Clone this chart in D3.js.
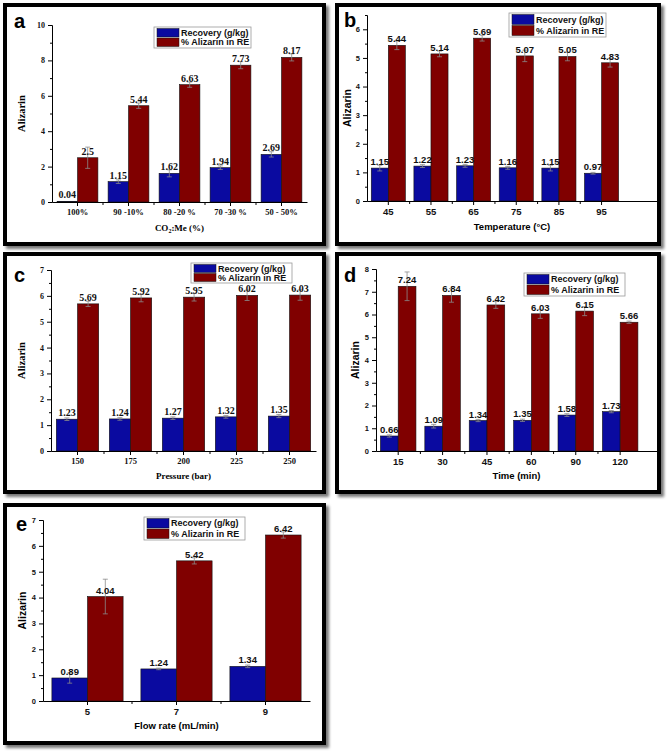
<!DOCTYPE html>
<html>
<head>
<meta charset="utf-8">
<script src="https://cdn.jsdelivr.net/npm/d3@7"></script>
<style>
body{margin:0;background:#fff;}
svg{display:block;}
</style>
</head>
<body>
<div id="chart"></div>
<script>
// ---- data ----
const seriesNames = ["Recovery (g/kg)", "% Alizarin in RE"];
const seriesColors = ["#0a0aa0", "#800000"];

const catsA = ["100%", "90 -10%", "80 -20 %", "70 -30 %", "50 - 50%"];
const recA = [0.04, 1.15, 1.62, 1.94, 2.69];
const reA = [2.5, 5.44, 6.63, 7.73, 8.17];
const recErrA = [0, 0.1, 0.2, 0.1, 0.15];
const reErrA = [0.6, 0.15, 0.15, 0.2, 0.2];

const catsB = ["45", "55", "65", "75", "85", "95"];
const recB = [1.15, 1.22, 1.23, 1.16, 1.15, 0.97];
const reB = [5.44, 5.14, 5.69, 5.07, 5.05, 4.83];
const recErrB = [0.1, 0.05, 0.05, 0.05, 0.1, 0.03];
const reErrB = [0.15, 0.1, 0.1, 0.2, 0.15, 0.15];

const catsC = ["150", "175", "200", "225", "250"];
const recC = [1.23, 1.24, 1.27, 1.32, 1.35];
const reC = [5.69, 5.92, 5.95, 6.02, 6.03];
const recErrC = [0.05, 0.05, 0.05, 0.05, 0.06];
const reErrC = [0.1, 0.15, 0.15, 0.2, 0.2];

const catsD = ["15", "30", "45", "60", "90", "120"];
const recD = [0.66, 1.09, 1.34, 1.35, 1.58, 1.73];
const reD = [7.24, 6.84, 6.42, 6.03, 6.15, 5.66];
const recErrD = [0.05, 0.08, 0.05, 0.05, 0.06, 0.05];
const reErrD = [0.63, 0.3, 0.15, 0.2, 0.2, 0.05];

const catsE = ["5", "7", "9"];
const recE = [0.89, 1.24, 1.34];
const reE = [4.04, 5.42, 6.42];
const recErrE = [0.2, 0.03, 0.05];
const reErrE = [0.67, 0.12, 0.12];

const yTitle = "Alizarin";
const xTitles = ["CO2:Me (%)", "Temperature (°C)", "Pressure (bar)", "Time (min)", "Flow rate (mL/min)"];

// ---- layout ----
const panels = [
  {letter: "a", cats: catsA, rec: recA, re: reA, recErr: recErrA, reErr: reErrA, xTitle: xTitles[0],
   yMax: 10, yStep: 2, minor: 1, serif: true,
   box: [3, 3, 326, 246], x0: 52, x1: 307, po: 0, yTop: 25, yBot: 202,
   legend: [154, 27, 97, 21], letterPos: [14, 28], yTitleX: 25, xTitleY: 231},
  {letter: "b", cats: catsB, rec: recB, re: reB, recErr: recErrB, reErr: reErrB, xTitle: xTitles[1],
   yMax: 6.5, yStep: 1, minor: 0.5, serif: false,
   box: [335, 3, 661, 246], x0: 367, x1: 657, po: 0.4, yTop: 15, yBot: 201,
   legend: [509, 13, 97, 24], letterPos: [344, 27], yTitleX: 351, xTitleY: 230},
  {letter: "c", cats: catsC, rec: recC, re: reC, recErr: recErrC, reErr: reErrC, xTitle: xTitles[2],
   yMax: 7, yStep: 1, minor: 0.5, serif: true,
   box: [3, 252, 326, 494], x0: 51, x1: 316, po: 0, yTop: 270, yBot: 451,
   legend: [191, 263, 101, 20], letterPos: [14, 282], yTitleX: 25, xTitleY: 479},
  {letter: "d", cats: catsD, rec: recD, re: reD, recErr: recErrD, reErr: reErrD, xTitle: xTitles[3],
   yMax: 8, yStep: 1, minor: 0.5, serif: false,
   box: [335, 252, 661, 494], x0: 376, x1: 657, po: 0.165, yTop: 269, yBot: 451,
   legend: [524, 273, 101, 23], letterPos: [344, 282], yTitleX: 359, xTitleY: 479},
  {letter: "e", cats: catsE, rec: recE, re: reE, recErr: recErrE, reErr: reErrE, xTitle: xTitles[4],
   yMax: 7, yStep: 1, minor: 0.5, serif: false,
   box: [3, 503, 326, 745], x0: 43, x1: 310, po: 0, yTop: 520, yBot: 701,
   legend: [144, 517, 101, 23], letterPos: [16, 531], yTitleX: 26, xTitleY: 729}
];

const SANS = "'Liberation Sans', Arial, sans-serif";
const SERIF = "'Liberation Serif', 'Times New Roman', serif";

const svg = d3.select("#chart").append("svg")
    .attr("width", 667)
    .attr("height", 753);

svg.append("defs").append("filter")
    .attr("id", "blur")
    .attr("x", "-5%").attr("y", "-5%").attr("width", "110%").attr("height", "110%")
  .append("feGaussianBlur").attr("stdDeviation", 1.5);

panels.forEach(drawPanel);

function drawPanel(p) {
  const g = svg.append("g");
  const [bx0, by0, bx1, by1] = p.box;
  const font = p.serif ? SERIF : SANS;

  // frame with a soft shadow
  g.append("rect")
      .attr("x", bx0 + 3).attr("y", by0 + 3)
      .attr("width", bx1 - bx0).attr("height", by1 - by0)
      .attr("fill", "#777").attr("filter", "url(#blur)");
  g.append("rect")
      .attr("x", bx0 + 2).attr("y", by0 + 2)
      .attr("width", bx1 - bx0 - 4).attr("height", by1 - by0 - 4)
      .attr("fill", "#fff").attr("stroke", "#000").attr("stroke-width", 4);

  const x = d3.scaleBand()
      .domain(p.cats)
      .range([p.x0, p.x1])
      .paddingInner(0)
      .paddingOuter(p.po)
      .align(0);
  const y = d3.scaleLinear().domain([0, p.yMax]).range([p.yBot, p.yTop]);
  const bw = x.bandwidth();
  const xs = d3.scaleBand().domain([0, 1]).range([bw * 0.1, bw * 0.9]);

  const rows = [];
  p.cats.forEach(function(c, i) {
    rows.push({c: c, s: 0, v: p.rec[i], e: p.recErr[i]});
    rows.push({c: c, s: 1, v: p.re[i], e: p.reErr[i]});
  });
  const cx = d => x(d.c) + xs(d.s) + xs.bandwidth() / 2;

  g.selectAll(".bar")
      .data(rows)
      .enter().append("rect")
      .attr("x", d => x(d.c) + xs(d.s))
      .attr("width", xs.bandwidth())
      .attr("y", d => y(d.v))
      .attr("height", d => y(0) - y(d.v))
      .attr("fill", d => seriesColors[d.s])
      .attr("stroke", "#111")
      .attr("stroke-width", 0.6);

  // error bars
  const eb = g.selectAll(".err")
      .data(rows.filter(d => d.e > 0))
      .enter().append("g")
      .attr("stroke", "#8a8a8a")
      .attr("stroke-width", 0.8);
  eb.append("line")
      .attr("x1", cx).attr("x2", cx)
      .attr("y1", d => y(d.v - d.e)).attr("y2", d => y(d.v + d.e));
  eb.append("line")
      .attr("x1", d => cx(d) - 2.5).attr("x2", d => cx(d) + 2.5)
      .attr("y1", d => y(d.v + d.e)).attr("y2", d => y(d.v + d.e));
  eb.append("line")
      .attr("x1", d => cx(d) - 2.5).attr("x2", d => cx(d) + 2.5)
      .attr("y1", d => y(d.v - d.e)).attr("y2", d => y(d.v - d.e));

  // value labels
  g.selectAll(".val")
      .data(rows)
      .enter().append("text")
      .attr("x", cx)
      .attr("y", d => y(d.v) - 3)
      .attr("text-anchor", "middle")
      .style("font-family", font)
      .style("font-weight", "bold")
      .style("font-size", p.serif ? "10px" : "9.5px")
      .attr("fill", "#111")
      .text(d => String(d.v));

  // y axis
  const yTicks = d3.range(0, p.yMax + 1e-6, p.yStep);
  const yMinor = d3.range(0, p.yMax + 1e-6, p.minor).filter(v => yTicks.indexOf(v) < 0);
  g.append("g")
      .attr("transform", "translate(" + p.x0 + ",0)")
      .call(d3.axisLeft(y).tickValues(yMinor).tickSize(2).tickSizeOuter(0).tickFormat(""));
  const ya = g.append("g")
      .attr("transform", "translate(" + p.x0 + ",0)")
      .call(d3.axisLeft(y).tickValues(yTicks).tickSize(4).tickSizeOuter(0).tickPadding(3)
        .tickFormat(d3.format("d")));
  ya.selectAll("text")
      .style("font-family", font)
      .style("font-weight", "bold")
      .style("font-size", p.serif ? "8px" : "7.5px")
      .attr("fill", "#111");

  // x axis
  const xa = g.append("g")
      .attr("transform", "translate(0," + p.yBot + ")")
      .call(d3.axisBottom(x).tickSize(4).tickSizeOuter(0).tickPadding(3));
  xa.selectAll("text")
      .style("font-family", font)
      .style("font-weight", "bold")
      .style("font-size", p.serif ? "8.5px" : "9.5px")
      .attr("fill", "#111");
  g.append("g").selectAll("line")
      .data(d3.range(1, p.cats.length))
      .enter().append("line")
      .attr("x1", i => x(p.cats[0]) + i * x.step())
      .attr("x2", i => x(p.cats[0]) + i * x.step())
      .attr("y1", p.yBot).attr("y2", p.yBot + 3)
      .attr("stroke", "#000");
  g.selectAll(".domain").attr("stroke", "#000").attr("stroke-width", 1);

  // axis titles
  g.append("text")
      .attr("transform", "translate(" + p.yTitleX + "," + ((p.yTop + p.yBot) / 2) + ") rotate(-90)")
      .attr("text-anchor", "middle")
      .style("font-family", font)
      .style("font-weight", "bold")
      .style("font-size", "10.5px")
      .text(yTitle);

  const xt = g.append("text")
      .attr("x", (p.x0 + p.x1) / 2)
      .attr("y", p.xTitleY)
      .attr("text-anchor", "middle")
      .style("font-family", font)
      .style("font-weight", "bold")
      .style("font-size", p.serif ? "9px" : "9.5px");
  if (p.xTitle.indexOf("CO2") === 0) {
    xt.append("tspan").text("CO");
    xt.append("tspan").attr("dy", 2).style("font-size", "6px").text("2");
    xt.append("tspan").attr("dy", -2).text(p.xTitle.slice(3));
  } else {
    xt.text(p.xTitle);
  }

  // legend
  const [lx, ly, lw, lh] = p.legend;
  const lg = g.append("g");
  lg.append("rect")
      .attr("x", lx).attr("y", ly).attr("width", lw).attr("height", lh)
      .attr("fill", "#fff").attr("stroke", "#9a9a9a").attr("stroke-width", 0.8);
  const rowH = (lh - 2) / 2;
  seriesNames.forEach(function(name, i) {
    lg.append("rect")
        .attr("x", lx + 3).attr("y", ly + 1 + i * rowH + 0.5)
        .attr("width", 22).attr("height", rowH - 1)
        .attr("fill", seriesColors[i]).attr("stroke", "#111").attr("stroke-width", 0.5);
    lg.append("text")
        .attr("x", lx + 27).attr("y", ly + 1 + i * rowH + rowH / 2)
        .attr("dy", "0.35em")
        .style("font-family", SANS)
        .style("font-weight", "bold")
        .style("font-size", "9px")
        .attr("fill", "#111")
        .text(name);
  });

  // panel letter
  g.append("text")
      .attr("x", p.letterPos[0]).attr("y", p.letterPos[1])
      .style("font-family", SANS)
      .style("font-weight", "bold")
      .style("font-size", "20px")
      .text(p.letter);
}
</script>
</body>
</html>
